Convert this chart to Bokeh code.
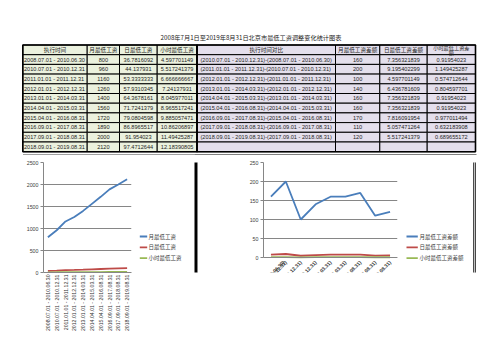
import math
from bokeh.plotting import figure
from bokeh.layouts import column, row
from bokeh.models import Range1d, FixedTicker, Spacer
from bokeh.core.properties import value
from bokeh.embed import file_html
from bokeh.resources import INLINE

# ---------------- data ----------------
title_text = "2008年7月1日至2019年8月31日北京市最低工资调整变化统计图表"
headers = ["执行时间", "月最低工资", "日最低工资", "小时最低工资",
           "执行时间对比", "月最低工资差额", "日最低工资差额", "小时最低工资差额"]
periods = ["2008.07.01 - 2010.06.30", "2010.07.01 - 2010.12.31", "2011.01.01 - 2011.12.31",
           "2012.01.01 - 2012.12.31", "2013.01.01 - 2014.03.31", "2014.04.01 - 2015.03.31",
           "2015.04.01 - 2016.08.31", "2016.09.01 - 2017.08.31", "2017.09.01 - 2018.08.31",
           "2018.09.01 - 2019.08.31"]
monthly = [800, 960, 1160, 1260, 1400, 1560, 1720, 1890, 2000, 2120]
daily = [36.7816092, 44.137931, 53.3333333, 57.9310345, 64.3678161, 71.7241379,
         79.0804598, 86.8965517, 91.954023, 97.4712644]
hourly = [4.597701149, 5.517241379, 6.666666667, 7.24137931, 8.045977011, 8.965517241,
          9.885057471, 10.86206897, 11.49425287, 12.18390805]
compare = ["(2010.07.01 - 2010.12.31)-(2008.07.01 - 2010.06.30)",
           "(2011.01.01 - 2011.12.31)-(2010.07.01 - 2010.12.31)",
           "(2012.01.01 - 2012.12.31)-(2011.01.01 - 2011.12.31)",
           "(2013.01.01 - 2014.03.31)-(2012.01.01 - 2012.12.31)",
           "(2014.04.01 - 2015.03.31)-(2013.01.01 - 2014.03.31)",
           "(2015.04.01 - 2016.08.31)-(2014.04.01 - 2015.03.31)",
           "(2016.09.01 - 2017.08.31)-(2015.04.01 - 2016.08.31)",
           "(2017.09.01 - 2018.08.31)-(2016.09.01 - 2017.08.31)",
           "(2018.09.01 - 2019.08.31)-(2017.09.01 - 2018.08.31)"]
diff_month = [160, 200, 100, 140, 160, 160, 170, 110, 120]
diff_day = [7.356321839, 9.195402299, 4.597701149, 6.436781609, 7.356321839, 7.356321839,
            7.816091954, 5.057471264, 5.517241379]
diff_hour = [0.91954023, 1.149425287, 0.574712644, 0.804597701, 0.91954023, 0.91954023,
             0.977011494, 0.632183908, 0.689655172]
legend1 = ["月最低工资", "日最低工资", "小时最低工资"]
legend2 = ["月最低工资差额", "日最低工资差额", "小时最低工资差额"]
ticks1 = [0, 500, 1000, 1500, 2000, 2500]
ticks2 = [0, 50, 100, 150, 200, 250]

# ---------------- styles ----------------
CJK = "Noto Sans CJK SC"
LAT = "Liberation Sans"
GREEN = "#EBF1DE"
PURPLE = "#E4DFEC"
TXT = "#262626"
GRID = "#868686"
SERIES = ["#4A7EBB", "#BE4B48", "#98B954"]

# ---------------- table figure ----------------
col_edges = [22.3, 86.7, 119.0, 156.7, 196.5, 335.0, 379.3, 426.7, 475.0]
row_top = 44.5
row_h = 9.7
n_rows = 11
TAB_H = 155

ptab = figure(width=503, height=TAB_H, x_range=Range1d(0, 503), y_range=Range1d(TAB_H, 0),
              output_backend="svg", toolbar_location=None, min_border=0,
              x_axis_type=None, y_axis_type=None, outline_line_color=None)
ptab.border_fill_color = "white"

L, R, T, B, F = [], [], [], [], []
for r in range(n_rows):
    for c in range(8):
        L.append(col_edges[c]); R.append(col_edges[c + 1])
        T.append(row_top + r * row_h); B.append(row_top + (r + 1) * row_h)
        F.append(GREEN if c < 4 else PURPLE)
ptab.quad(left=L, right=R, top=T, bottom=B, fill_color=F, line_color="black", line_width=1)
tb = row_top + n_rows * row_h
ptab.quad(left=[col_edges[0], col_edges[4]], right=[col_edges[4], col_edges[8]],
          top=[row_top, row_top], bottom=[tb, tb], fill_alpha=0, line_color="black", line_width=1.6)
# top edges of the two chart boxes
ptab.segment(x0=[22.5, 194.0], x1=[194.0, 476.0], y0=[154.5, 154.5], y1=[154.5, 154.5],
             line_color=["#404040", "black"], line_width=1)

ptab.text(x=[250.5], y=[36.7], text=[title_text], text_align="center", text_baseline="middle",
          text_font=value(CJK), text_font_size=value("6.2px"), text_color="#1a1a1a")

hx, hy, ht = [], [], []
for c in range(7):
    hx.append((col_edges[c] + col_edges[c + 1]) / 2); hy.append(row_top + row_h / 2); ht.append(headers[c])
ptab.text(x=hx, y=hy, text=ht, text_align="center", text_baseline="middle",
          text_font=value(CJK), text_font_size=value("5.6px"), text_color=TXT)
last_h = headers[7]
ptab.text(x=[(col_edges[7] + col_edges[8]) / 2] * 2, y=[row_top + 2.4, row_top + 7.4],
          text=[last_h[:-1], last_h[-1:]], text_align="center", text_baseline="middle",
          text_font=value(CJK), text_font_size=value("5.2px"), text_color=TXT)

lx, ly, lt = [], [], []
cx, cy, ct = [], [], []
for r in range(len(periods)):
    yc = row_top + (r + 1) * row_h + row_h / 2
    lx.append(col_edges[0] + 1.2); ly.append(yc); lt.append(periods[r])
    for c, vals in ((1, monthly), (2, daily), (3, hourly)):
        cx.append((col_edges[c] + col_edges[c + 1]) / 2); cy.append(yc); ct.append(str(vals[r]))
    if r < len(compare):
        lx.append(col_edges[4] + 3.5); ly.append(yc); lt.append(compare[r])
        for c, vals in ((5, diff_month), (6, diff_day), (7, diff_hour)):
            cx.append((col_edges[c] + col_edges[c + 1]) / 2); cy.append(yc); ct.append(str(vals[r]))
ptab.text(x=lx, y=ly, text=lt, text_align="left", text_baseline="middle",
          text_font=value(LAT), text_font_size=value("5.6px"), text_color=TXT)
ptab.text(x=cx, y=cy, text=ct, text_align="center", text_baseline="middle",
          text_font=value(LAT), text_font_size=value("5.6px"), text_color=TXT)

# all figures of the chart row share the same top / frame / bottom sizes
CH_H = 194
TOP_B = 7
FRAME_H = 110
BOT_B = CH_H - TOP_B - FRAME_H
VIS_H = 162    # visible height of the chart boxes in the reference


# ---------------- charts ----------------
def make_chart(cats, series, overrides, bl, br, fw, y_lo, ymax, ticks,
               lab_angle, lab_style, lab_size, lab_standoff):
    W = bl + fw + br
    p = figure(width=W, height=CH_H, x_range=cats, y_range=Range1d(y_lo, ymax),
               output_backend="svg", toolbar_location=None,
               min_border_left=bl, min_border_right=br, min_border_top=TOP_B,
               min_border_bottom=BOT_B)
    p.outline_line_color = None
    p.background_fill_color = "white"
    p.border_fill_color = "white"
    p.xgrid.grid_line_color = None
    p.ygrid.ticker = FixedTicker(ticks=ticks)
    p.ygrid.grid_line_color = GRID
    p.ygrid.grid_line_width = 1
    p.yaxis.ticker = FixedTicker(ticks=ticks)
    p.yaxis.bounds = (0, ymax)
    p.yaxis.axis_line_color = GRID
    p.yaxis.major_tick_line_color = GRID
    p.yaxis.major_tick_out = 3
    p.yaxis.major_tick_in = 0
    p.yaxis.minor_tick_line_color = None
    p.yaxis.major_label_standoff = 2
    p.yaxis.major_label_text_font = LAT
    p.yaxis.major_label_text_font_size = "5.3px"
    p.yaxis.major_label_text_color = "#404040"
    if y_lo < 0:
        p.xaxis.fixed_location = 0
    p.xaxis.axis_line_color = GRID
    p.xaxis.major_tick_line_color = None
    p.xaxis.minor_tick_line_color = None
    p.xaxis.major_tick_out = 0
    p.xaxis.major_tick_in = 0
    p.xaxis.major_label_orientation = lab_angle
    p.xaxis.major_label_standoff = lab_standoff
    p.xaxis.major_label_text_font = LAT
    p.xaxis.major_label_text_font_size = lab_size
    p.xaxis.major_label_text_font_style = lab_style
    p.xaxis.major_label_text_color = "#333333"
    if overrides:
        p.xaxis.major_label_overrides = overrides
    for vals, col in zip(series, SERIES):
        p.line(x=cats, y=vals, line_color=col, line_width=1.8)
    return p


def legend_panel(w, names, gx0, gx1, tx, y0, pitch, borders):
    """Legend drawn beside a chart, plus the chart box's vertical edge lines.
    Local coordinates: pixels from the top of this figure."""
    f = figure(width=w, height=CH_H, x_range=Range1d(0, w),
               y_range=Range1d(TOP_B + FRAME_H, TOP_B),
               output_backend="svg", toolbar_location=None,
               min_border_left=0, min_border_right=0, min_border_top=TOP_B,
               min_border_bottom=BOT_B,
               x_axis_type=None, y_axis_type=None, outline_line_color=None)
    f.background_fill_color = "white"
    f.border_fill_color = "white"
    ys = [y0 + i * pitch for i in range(len(names))]
    f.segment(x0=[gx0] * len(names), x1=[gx1] * len(names), y0=ys, y1=ys,
              line_color=SERIES[:len(names)], line_width=1.8)
    f.text(x=[tx] * len(names), y=ys, text=names, text_align="left", text_baseline="middle",
           text_font=value(CJK), text_font_size=value("5.5px"), text_color="#404040")
    if borders:
        f.quad(left=[b[0] for b in borders], right=[b[1] for b in borders],
               top=0, bottom=VIS_H, fill_color=[b[2] for b in borders], line_color=None)
    return f


p1 = make_chart(periods, [monthly, daily, hourly], None,
                21, 3, 88, 0, 2500, ticks1, math.pi / 2, "normal", "5.2px", 2)
leg1 = legend_panel(64, legend1, 5.3, 12.7, 14.0, 81.0, 10.8,
                    [(60.0, 63.0, "black"), (63.3, 64.0, "#9a9a9a")])

# chart 2: plot area 95 px tall for 0..250 inside the shared 110 px frame
zero_px, top_px = 95.0, 15.0
y_lo2 = -250 * top_px / zero_px
short = {s: s[:39] + "..." for s in compare}
p2 = make_chart(compare, [diff_month, diff_day, diff_hour], short,
                65, 3, 134, y_lo2, 250, ticks2, math.pi / 4, "bold", "5px", 4)
leg2 = legend_panel(76, legend2, 6.0, 17.3, 19.0, 81.0, 10.8,
                    [(72.8, 73.8, "black"), (73.8, 74.8, "#c8c8c8"), (74.8, 75.8, "black")])

charts = row(Spacer(width=22, height=CH_H), p1, leg1, p2, leg2)
layout = column(ptab, charts)

with open("out.html", "w") as f:
    f.write(file_html(layout, INLINE))
